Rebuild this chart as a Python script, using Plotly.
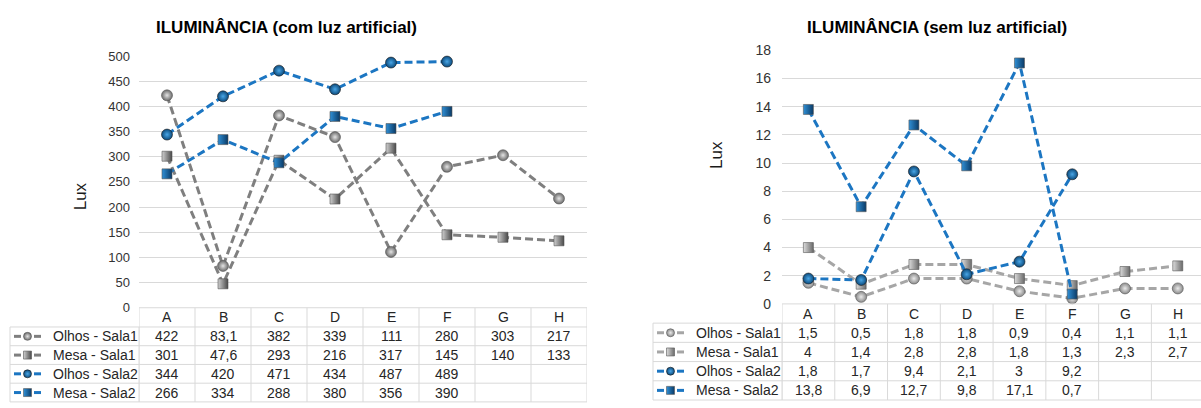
import plotly.graph_objects as go

W, H = 1201, 408
FONT = "Liberation Sans, Arial, sans-serif"

categories = ["A", "B", "C", "D", "E", "F", "G", "H"]
series_names = ["Olhos - Sala1", "Mesa - Sala1", "Olhos - Sala2", "Mesa - Sala2"]

# Iluminância com luz artificial (lux)
com_olhos_sala1 = [422, 83.1, 382, 339, 111, 280, 303, 217]
com_mesa_sala1 = [301, 47.6, 293, 216, 317, 145, 140, 133]
com_olhos_sala2 = [344, 420, 471, 434, 487, 489, None, None]
com_mesa_sala2 = [266, 334, 288, 380, 356, 390, None, None]

# Iluminância sem luz artificial (lux)
sem_olhos_sala1 = [1.5, 0.5, 1.8, 1.8, 0.9, 0.4, 1.1, 1.1]
sem_mesa_sala1 = [4, 1.4, 2.8, 2.8, 1.8, 1.3, 2.3, 2.7]
sem_olhos_sala2 = [1.8, 1.7, 9.4, 2.1, 3, 9.2, None, None]
sem_mesa_sala2 = [13.8, 6.9, 12.7, 9.8, 17.1, 0.7, None, None]

com_ticks = [0, 50, 100, 150, 200, 250, 300, 350, 400, 450, 500]
sem_ticks = [0, 2, 4, 6, 8, 10, 12, 14, 16, 18]

titles = ["ILUMINÂNCIA (com luz artificial)", "ILUMINÂNCIA (sem luz artificial)"]


def px(x):
    return x / W


def py(y):
    return 1 - y / H


def fmt(v):
    return "" if v is None else f"{v:g}".replace(".", ",")


BLUE_LINE = "#1C76C2"

# marker styles: (symbol, size, colour, gradient type, gradient colour)
def marker_styles(gray_dark):
    if gray_dark:
        g_circ = ("circle", 11, "#6A6A6A", "radial", "#E4E4E4")
        g_sq = ("square", 10, "#CFCFCF", "horizontal", "#4A4A4A")
    else:
        g_circ = ("circle", 11, "#8A8A8A", "radial", "#EAEAEA")
        g_sq = ("square", 10, "#DCDCDC", "horizontal", "#6A6A6A")
    b_circ = ("circle", 11, "#0B4A7C", "radial", "#49A6E6")
    b_sq = ("square", 10, "#3090D6", "horizontal", "#0A3A66")
    return [g_circ, g_sq, b_circ, b_sq]


def mk(style, size=None):
    sym, sz, col, gt, gc = style
    return dict(symbol=sym, size=size or sz, color=col,
                gradient=dict(type=gt, color=gc),
                line=dict(width=0.6, color="#1a1a1a" if col.startswith("#0") else "#555555"))


charts = [
    dict(data=[com_olhos_sala1, com_mesa_sala1, com_olhos_sala2, com_mesa_sala2],
         ticks=com_ticks, ymax=500, xr=[-0.5, 7.5],
         x0=139, x1=587, y0=312, ytop=50,
         tleft=10, hh=20, rh=19.5,
         key_x=14, label_x=51, title_x=286, lux=(80, 196),
         gray="#7F7F7F", gray_dark=True, tickfont=13, standoff=8),
    dict(data=[sem_olhos_sala1, sem_mesa_sala1, sem_olhos_sala2, sem_mesa_sala2],
         ticks=sem_ticks, ymax=18, xr=[-0.5, 7.44],
         x0=782, x1=1201, y0=308, ytop=44,
         tleft=653, hh=20, rh=20,
         key_x=657, label_x=694, title_x=937, lux=(716, 153),
         gray="#A6A6A6", gray_dark=False, tickfont=14, standoff=10),
]

fig = go.Figure()
shapes = []
annotations = []
GRID = "#D9D9D9"

for ci, c in enumerate(charts):
    xa = "x" if ci == 0 else "x2"
    ya = "y" if ci == 0 else "y2"
    styles = marker_styles(c["gray_dark"])
    colors = [c["gray"], c["gray"], BLUE_LINE, BLUE_LINE]

    for si, vals in enumerate(c["data"]):
        fig.add_trace(go.Scatter(
            x=list(range(len(categories))), y=vals, mode="lines+markers",
            name=series_names[si], xaxis=xa, yaxis=ya, showlegend=False,
            connectgaps=False, cliponaxis=False,
            line=dict(color=colors[si], width=3, dash="8px,4px"),
            marker=mk(styles[si]),
        ))

    axis_suffix = "" if ci == 0 else "2"
    fig.update_layout(**{
        "xaxis" + axis_suffix: dict(
            domain=[px(c["x0"]), px(c["x1"])], range=c["xr"],
            showgrid=False, zeroline=False, showline=False,
            showticklabels=False, ticks="", anchor=ya, fixedrange=True),
        "yaxis" + axis_suffix: dict(
            domain=[py(c["y0"]), py(c["ytop"])], range=[0, c["ymax"]],
            tickvals=c["ticks"], showgrid=True, gridcolor=GRID, gridwidth=1,
            zeroline=False, showline=False, ticks="",
            ticklabelstandoff=c["standoff"],
            tickfont=dict(family=FONT, size=c["tickfont"], color="#333333"),
            anchor=xa, fixedrange=True),
    })

    # data table under the plot area
    y0, hh, rh = c["y0"], c["hh"], c["rh"]
    ncol = len(categories)
    rows_top = y0 + hh
    rows_bottom = rows_top + rh * len(series_names)
    # vertical cell borders
    for k in range(ncol + 1):
        shapes.append(dict(type="line", xref=xa, yref="paper",
                           x0=k - 0.5, x1=k - 0.5, y0=py(y0), y1=py(rows_bottom),
                           line=dict(color=GRID, width=1)))
    for xb in (c["tleft"], c["x0"]):
        shapes.append(dict(type="line", xref="paper", yref="paper",
                           x0=px(xb), x1=px(xb), y0=py(rows_top), y1=py(rows_bottom),
                           line=dict(color=GRID, width=1)))
    # horizontal cell borders
    shapes.append(dict(type="line", xref="paper", yref="paper",
                       x0=px(c["x0"]), x1=px(c["x1"]), y0=py(y0), y1=py(y0),
                       line=dict(color=GRID, width=1)))
    for r in range(len(series_names) + 1):
        yy = rows_top + r * rh
        shapes.append(dict(type="line", xref="paper", yref="paper",
                           x0=px(c["tleft"]), x1=px(c["x1"]), y0=py(yy), y1=py(yy),
                           line=dict(color=GRID, width=1)))

    # header letters
    for i, cat in enumerate(categories):
        annotations.append(dict(xref=xa, yref="paper", x=i, y=py(y0 + hh / 2),
                                text=cat, showarrow=False, xanchor="center", yanchor="middle",
                                font=dict(family=FONT, size=14, color="#262626")))
    # table rows
    for si, vals in enumerate(c["data"]):
        yc = rows_top + rh * si + rh / 2
        for i, v in enumerate(vals):
            if v is None:
                continue
            annotations.append(dict(xref=xa, yref="paper", x=i, y=py(yc),
                                    text=fmt(v), showarrow=False,
                                    xanchor="center", yanchor="middle",
                                    font=dict(family=FONT, size=14, color="#262626")))
        annotations.append(dict(xref="paper", yref="paper", x=px(c["label_x"]), y=py(yc),
                                text=series_names[si], showarrow=False,
                                xanchor="left", yanchor="middle",
                                font=dict(family=FONT, size=14, color="#262626")))
        # legend key: dash, marker, dash
        kx = c["key_x"]
        for a, b in ((kx, kx + 7), (kx + 20, kx + 27)):
            shapes.append(dict(type="line", xref="paper", yref="paper",
                               x0=px(a), x1=px(b), y0=py(yc), y1=py(yc),
                               line=dict(color=colors[si], width=3)))
        fig.add_trace(go.Scatter(
            x=[kx + 13.5], y=[yc], mode="markers", xaxis="x3", yaxis="y3",
            showlegend=False, hoverinfo="skip", cliponaxis=False,
            marker=mk(styles[si], size=8)))

    # chart title and axis title
    annotations.append(dict(xref="paper", yref="paper", x=px(c["title_x"]), y=py(20),
                            text="<b>" + titles[ci] + "</b>", showarrow=False,
                            xanchor="center", yanchor="middle",
                            font=dict(family=FONT, size=17, color="#000000")))
    annotations.append(dict(xref="paper", yref="paper", x=px(c["lux"][0]), y=py(c["lux"][1]),
                            text="Lux", textangle=-90, showarrow=False,
                            xanchor="center", yanchor="middle",
                            font=dict(family=FONT, size=17, color="#1a1a1a")))

fig.update_layout(
    xaxis3=dict(domain=[0, 1], range=[0, W], visible=False, fixedrange=True, anchor="y3"),
    yaxis3=dict(domain=[0, 1], range=[H, 0], visible=False, fixedrange=True, anchor="x3"),
)

fig.update_layout(
    width=W, height=H, margin=dict(l=0, r=0, t=0, b=0),
    paper_bgcolor="white", plot_bgcolor="rgba(0,0,0,0)",
    shapes=shapes, annotations=annotations,
    font=dict(family=FONT),
)

fig.write_html("out.html", config={"displayModeBar": False})
